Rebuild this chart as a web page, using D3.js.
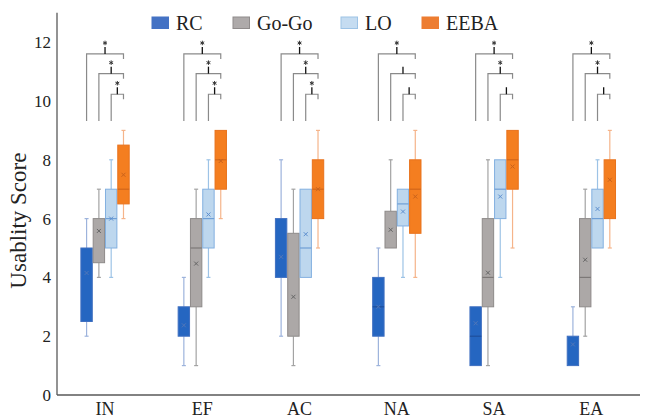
<!DOCTYPE html>
<html>
<head>
<meta charset="utf-8">
<script src="https://cdn.jsdelivr.net/npm/d3@7"></script>
<style>
  body { margin: 0; background: #fff; }
  svg text { font-family: "Liberation Serif", "Times New Roman", serif; fill: #222; }
</style>
</head>
<body>
<div id="chart"></div>
<script>
// --- Data ---
const categories = ["IN", "EF", "AC", "NA", "SA", "EA"];
const seriesNames = ["RC", "Go-Go", "LO", "EEBA"];
const yTicks = [0, 2, 4, 6, 8, 10, 12];

// rows per category: [min, q1, median, q3, max, mean]
const rcStats = [
  [2, 2.5, 5, 5, 6, 4.15],
  [1, 2, 2, 3, 4, 2.37],
  [2, 4, 4, 6, 8, 4.7],
  [1, 2, 3, 4, 5, 3.0],
  [1, 1, 2, 3, 3, 2.44],
  [1, 1, 2, 2, 3, 1.72]
];
const gogoStats = [
  [4, 4.5, 6, 6, 7, 5.58],
  [1, 3, 5, 6, 7, 4.47],
  [1, 2, 2, 5.5, 7, 3.34],
  [5, 5, 6.25, 6.25, 8, 5.62],
  [1, 3, 4, 6, 8, 4.16],
  [2, 3, 4, 6, 7, 4.6]
];
const loStats = [
  [4, 5, 6, 7, 8, 6.0],
  [4, 5, 6, 7, 8, 6.14],
  [4, 4, 5, 7, 7, 5.47],
  [4, 5.75, 6.5, 7, 7, 6.24],
  [4, 6, 7, 8, 8, 6.75],
  [5, 5, 6, 7, 8, 6.33]
];
const eebaStats = [
  [6, 6.5, 7, 8.5, 9, 7.49],
  [6, 7, 8, 9, 9, 7.96],
  [5, 6, 7, 8, 9, 7.0],
  [4, 5.5, 7, 8, 9, 6.75],
  [5, 7, 8, 9, 9, 7.77],
  [5, 6, 8, 8, 9, 7.32]
];

// significance stars for brackets RC-EEBA, GoGo-EEBA, LO-EEBA
const sigStars = [
  [1, 1, 1],
  [1, 1, 1],
  [1, 1, 1],
  [1, 0, 0],
  [1, 1, 0],
  [1, 1, 0]
];
const bracketLevels = [11.6, 10.93, 10.23];
const bracketFoot = 9.32;

// --- Styles ---
const fills   = ["#2566c1", "#aca8a7", "#bdd7ee", "#f47e20"];
const strokes = ["#3f6fc0", "#8e8a89", "#83b0e0", "#e8721c"];
const medians = ["#1f4f9c", "#7c7877", "#6f9fd6", "#d2661a"];
const whiskerCols = ["#9db3dc", "#a3a3a3", "#9dc3e6", "#f5b48a"];
const meanCols = ["#5277b8", "#666", "#5d8fcf", "#c9621c"];
const legendFills = ["#4472c4", "#aeaaaa", "#c5dcf1", "#ed7d31"];
const legendStrokes = ["#4472c4", "#8f8b8b", "#9dc3e6", "#ed7d31"];

const W = 646, H = 419;
const svg = d3.select('#chart').append('svg').attr('width', W).attr('height', H);

const x = d3.scaleBand().domain(categories).range([56.4, 640]).padding(0);
const y = d3.scaleLinear().domain([0, 13]).range([395, 12.8]);
const boxW = 11.4, step = 12.3;
const offset = i => (i - 1.5) * step;
const allStats = [rcStats, gogoStats, loStats, eebaStats];

// axes lines
svg.append('line').attr('x1', 57).attr('x2', 57).attr('y1', y(13)).attr('y2', y(0))
  .attr('stroke', '#595959').attr('stroke-width', 1.3);
svg.append('line').attr('x1', 57).attr('x2', 640).attr('y1', y(0)).attr('y2', y(0))
  .attr('stroke', '#595959').attr('stroke-width', 1.3);

// y tick labels
svg.selectAll('text.ytick').data(yTicks).join('text')
  .attr('class', 'ytick')
  .attr('x', 51).attr('y', d => y(d)).attr('dy', '0.35em')
  .attr('text-anchor', 'end').attr('font-size', 17)
  .text(d => d);

// x labels
svg.selectAll('text.xtick').data(categories).join('text')
  .attr('class', 'xtick')
  .attr('x', d => x(d) + x.bandwidth() / 2).attr('y', 415)
  .attr('text-anchor', 'middle').attr('font-size', 18)
  .text(d => d);

// y title
svg.append('text')
  .attr('transform', `translate(26,${y(6) + 2}) rotate(-90)`)
  .attr('text-anchor', 'middle').attr('font-size', 23)
  .text('Usablity Score');

// boxes
allStats.forEach((stats, si) => {
  const g = svg.append('g');
  stats.forEach((s, ci) => {
    const [mn, q1, med, q3, mx, mean] = s;
    const cx = x(categories[ci]) + x.bandwidth() / 2 + offset(si);
    // whiskers
    [[q3, mx], [q1, mn]].forEach(([a, b]) => {
      if (a === b) return;
      g.append('line').attr('x1', cx).attr('x2', cx).attr('y1', y(a)).attr('y2', y(b))
        .attr('stroke', whiskerCols[si]).attr('stroke-width', 1.2);
      g.append('line').attr('x1', cx - 2).attr('x2', cx + 2).attr('y1', y(b)).attr('y2', y(b))
        .attr('stroke', whiskerCols[si]).attr('stroke-width', 1.2);
    });
    g.append('rect')
      .attr('x', cx - boxW / 2).attr('y', y(q3))
      .attr('width', boxW).attr('height', y(q1) - y(q3))
      .attr('fill', fills[si]).attr('stroke', strokes[si]).attr('stroke-width', 1);
    if (med !== q1 && med !== q3) {
      g.append('line').attr('x1', cx - boxW / 2).attr('x2', cx + boxW / 2)
        .attr('y1', y(med)).attr('y2', y(med))
        .attr('stroke', medians[si]).attr('stroke-width', 1.2);
    }
    // mean marker
    const my = y(mean), r = 2;
    g.append('path')
      .attr('d', `M${cx - r},${my - r}L${cx + r},${my + r}M${cx - r},${my + r}L${cx + r},${my - r}`)
      .attr('stroke', meanCols[si]).attr('stroke-width', 1);
  });
});

// significance brackets
const star = d3.symbol(d3.symbolAsterisk, 14);
categories.forEach((cat, ci) => {
  const c0 = x(cat) + x.bandwidth() / 2;
  const right = c0 + offset(3);
  [0, 1, 2].forEach(bi => {
    const left = c0 + offset(bi);
    const yl = y(bracketLevels[bi]);
    const mid = (left + right) / 2;
    svg.append('path')
      .attr('d', `M${left},${y(bracketFoot)}V${yl}H${right}v5`)
      .attr('fill', 'none').attr('stroke', '#8a8a8a').attr('stroke-width', 1.2);
    svg.append('line').attr('x1', mid).attr('x2', mid).attr('y1', yl).attr('y2', yl - 7)
      .attr('stroke', '#111').attr('stroke-width', 1.3);
    if (sigStars[ci][bi]) {
      svg.append('path').attr('d', star)
        .attr('transform', `translate(${mid},${yl - 11})`)
        .attr('fill', 'none').attr('stroke', '#333').attr('stroke-width', 1);
    }
  });
});

// legend
const legendX = [152, 233, 341, 422];
const lg = svg.selectAll('g.leg').data(seriesNames).join('g')
  .attr('class', 'leg')
  .attr('transform', (d, i) => `translate(${legendX[i]},17)`);
lg.append('rect').attr('width', 16.5).attr('height', 11.5)
  .attr('fill', (d, i) => legendFills[i]).attr('stroke', (d, i) => legendStrokes[i]);
lg.append('text').attr('x', 24).attr('y', 6).attr('dy', '0.36em')
  .attr('font-size', 20).text(d => d);
</script>
</body>
</html>
